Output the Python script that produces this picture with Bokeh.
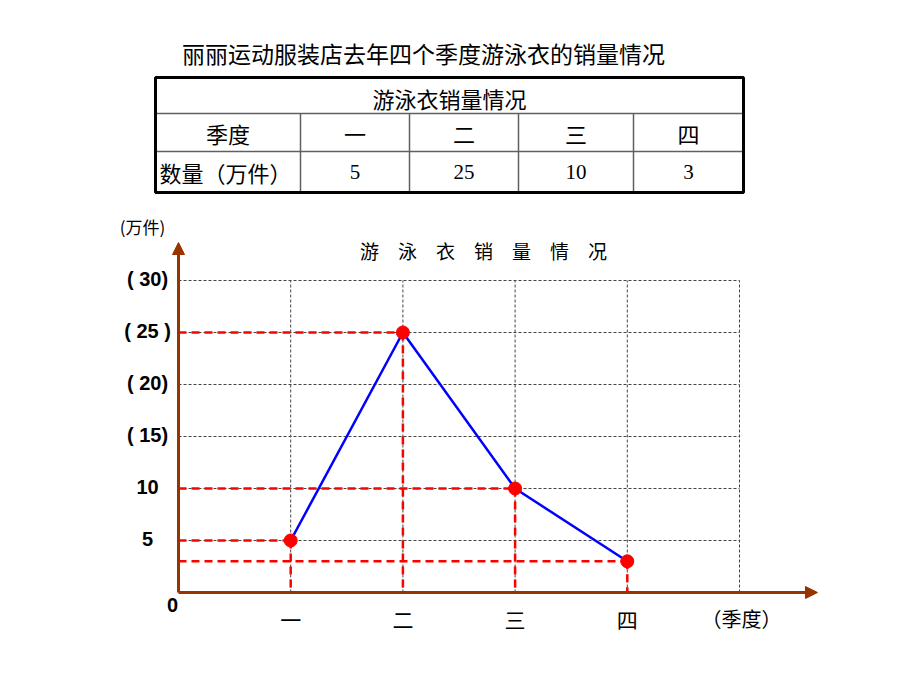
from bokeh.plotting import figure
from bokeh.models import Range1d, Arrow, NormalHead
from bokeh.core.properties import value
from bokeh.embed import file_html
from bokeh.resources import INLINE

# ---- data ----
quarters = ["一", "二", "三", "四"]
sales = [5, 25, 10, 3]
quarter_pos = [1, 2, 3, 4]
y_ticks = [30, 25, 20, 15, 10, 5]
y_tick_labels = ["( 30)", "( 25 )", "( 20)", "( 15)", "10", "5"]
grid_x = [1, 2, 3, 4, 5]
grid_y = [5, 10, 15, 20, 25, 30]
page_title = "丽丽运动服装店去年四个季度游泳衣的销量情况"
table_title = "游泳衣销量情况"
row1_label = "季度"
row2_label = "数量（万件）"
chart_title = "游\u3000泳\u3000衣\u3000销\u3000量\u3000情\u3000况"
y_unit = "(万件)"
x_unit = "（季度）"

W, H = 920, 690
X0, Y0 = 178, 592          # pixel position of data origin
UX, UY = 112.2, 10.4       # pixels per data unit


def px(x):
    return (x - X0) / UX


def py(y):
    return (Y0 - y) / UY


p = figure(width=W, height=H, output_backend="svg", toolbar_location=None,
           x_range=Range1d(px(0), px(W)), y_range=Range1d(py(H), py(0)),
           min_border=0, x_axis_location=None, y_axis_location=None,
           background_fill_color="white", border_fill_color="white")
p.outline_line_color = None
p.xgrid.visible = False
p.ygrid.visible = False

CJK = value("Noto Sans CJK SC")
BROWN = "#993300"

# ---- page title ----
p.text(x=[px(423)], y=[py(52)], text=[page_title], text_font=CJK,
       text_font_size=value("23px"), text_align="center", text_baseline="middle",
       text_color="black")

# ---- table ----
t_left, t_right, t_top, t_bot = 155, 743, 77, 192
row_lines = [113, 151]
col_lines = [300, 409, 518, 633]
p.segment(x0=[px(t_left)] * 2, x1=[px(t_right)] * 2,
          y0=[py(r) for r in row_lines], y1=[py(r) for r in row_lines],
          line_color="#606060", line_width=1.5)
p.segment(x0=[px(c) for c in col_lines], x1=[px(c) for c in col_lines],
          y0=[py(row_lines[0])] * 4, y1=[py(t_bot)] * 4,
          line_color="#606060", line_width=1.5)
p.quad(left=[px(t_left)], right=[px(t_right)], top=[py(t_top)], bottom=[py(t_bot)],
       fill_color=None, line_color="black", line_width=3)

col_edges = [t_left] + col_lines + [t_right]
col_centers = [(col_edges[i] + col_edges[i + 1]) / 2 for i in range(5)]
p.text(x=[px((t_left + t_right) / 2)], y=[py(97)], text=[table_title], text_font=CJK,
       text_font_size=value("22px"), text_align="center", text_baseline="middle")
p.text(x=[px(c) for c in col_centers], y=[py(132)] * 5, text=[row1_label] + quarters,
       text_font=CJK, text_font_size=value("22px"), text_align="center",
       text_baseline="middle")
p.text(x=[px(t_left + 4)], y=[py(171)], text=[row2_label], text_font=CJK,
       text_font_size=value("22px"), text_align="left", text_baseline="middle")
p.text(x=[px(c) for c in col_centers[1:]], y=[py(171)] * 4,
       text=[str(v) for v in sales], text_font=value("Liberation Serif"),
       text_font_size=value("21px"), text_align="center", text_baseline="middle")

# ---- chart grid ----
p.segment(x0=grid_x, x1=grid_x, y0=[0] * len(grid_x), y1=[max(grid_y)] * len(grid_x),
          line_color="#444444", line_width=1, line_dash="3 2")
p.segment(x0=[0] * len(grid_y), x1=[max(grid_x)] * len(grid_y), y0=grid_y, y1=grid_y,
          line_color="#444444", line_width=1, line_dash="3 2")

# ---- red guide lines ----
p.segment(x0=[0] * len(sales), x1=quarter_pos, y0=sales, y1=sales,
          line_color="#FF0000", line_width=2.5, line_dash="8 5")
p.segment(x0=quarter_pos, x1=quarter_pos, y0=sales, y1=[0] * len(sales),
          line_color="#FF0000", line_width=2.5, line_dash="8 5")

# ---- axes with arrows ----
p.add_layout(Arrow(x_start=0, y_start=0, x_end=px(817), y_end=0,
                   line_color=BROWN, line_width=3,
                   end=NormalHead(size=12, fill_color=BROWN, line_color=BROWN)))
p.add_layout(Arrow(x_start=0, y_start=0, x_end=0, y_end=py(242),
                   line_color=BROWN, line_width=3,
                   end=NormalHead(size=12, fill_color=BROWN, line_color=BROWN)))

# ---- data line and points ----
p.line(x=quarter_pos, y=sales, line_color="#0000FF", line_width=2.5)
p.scatter(x=quarter_pos, y=sales, size=13, fill_color="#FF0000", line_color="#FF0000")

# ---- chart texts ----
p.text(x=[px(483)], y=[py(250)], text=[chart_title], text_font=CJK,
       text_font_size=value("19px"), text_align="center", text_baseline="middle")
p.text(x=[px(142)], y=[py(226)], text=[y_unit], text_font=CJK,
       text_font_size=value("17px"), text_align="center", text_baseline="middle")
p.text(x=[px(147)] * len(y_ticks), y=y_ticks, text=y_tick_labels, y_offset=-2,
       text_font=value("Liberation Sans"), text_font_style="bold",
       text_font_size=value("20px"), text_align="center", text_baseline="middle")
p.text(x=[px(172)], y=[py(604)], text=["0"], text_font=value("Liberation Sans"),
       text_font_style="bold", text_font_size=value("20px"), text_align="center",
       text_baseline="middle")
p.text(x=quarter_pos, y=[py(618)] * 4, text=quarters, text_font=CJK,
       text_font_size=value("21px"), text_align="center", text_baseline="middle")
p.text(x=[px(741)], y=[py(618)], text=[x_unit], text_font=CJK,
       text_font_size=value("20px"), text_align="center", text_baseline="middle")

open("out.html", "w").write(file_html(p, INLINE))
